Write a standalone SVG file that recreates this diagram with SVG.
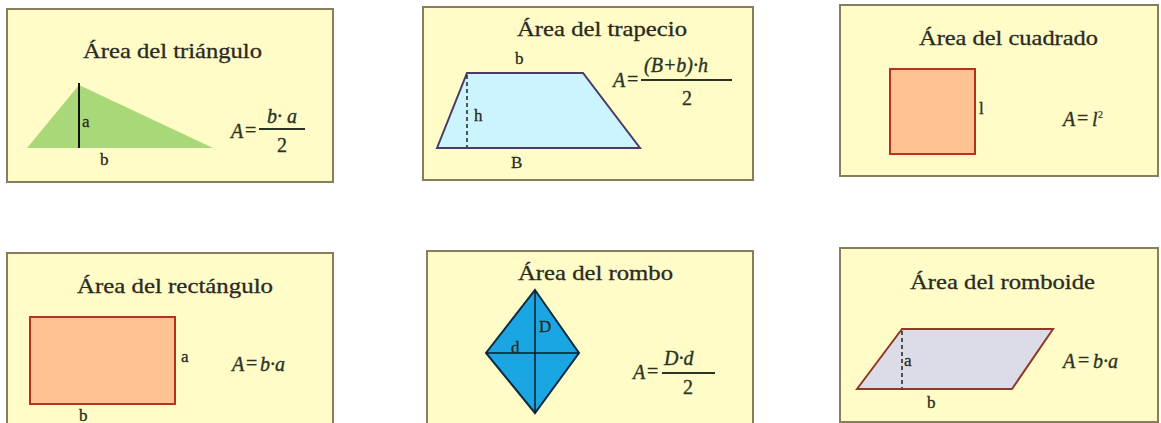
<svg xmlns="http://www.w3.org/2000/svg" width="1161" height="423" viewBox="0 0 1161 423">
<style>
.panel{fill:#fffcc8;stroke:#8a7c5c;stroke-width:2}
.title{font-family:"Liberation Serif",serif;font-size:21px;fill:#2a2a22;stroke:#2a2a22;stroke-width:0.3}
.lbl{font-family:"Liberation Serif",serif;font-size:17px;fill:#2a2a22;stroke:#2a2a22;stroke-width:0.3}
.f{font-family:"Liberation Serif",serif;font-style:italic;font-size:20px;fill:#2a3424;stroke:#2a3424;stroke-width:0.35}
.fn{font-family:"Liberation Serif",serif;font-size:20px;fill:#2a3424;stroke:#2a3424;stroke-width:0.35}
.sup{font-family:"Liberation Serif",serif;font-size:10px;fill:#2a3424;stroke:#2a3424;stroke-width:0.2}
.bar{stroke:#2a3424;stroke-width:1.8}
</style>
<rect width="1161" height="423" fill="#ffffff"/>
<g id="triangulo">
<rect class="panel" x="7" y="9" width="326" height="173"/>
<text class="title" x="83" y="58" textLength="179" lengthAdjust="spacingAndGlyphs">Área del triángulo</text>
<polygon points="27,148 79,85 213,148" fill="#a9d878"/>
<line x1="79" y1="83" x2="79" y2="148" stroke="#111" stroke-width="2"/>
<text class="lbl" x="82" y="127">a</text>
<text class="lbl" x="100" y="165">b</text>
<text class="f" x="231" y="138">A</text>
<text class="fn" x="245" y="137">=</text>
<text class="f" x="267" y="123">b· a</text>
<line class="bar" x1="259" y1="129" x2="305" y2="129"/>
<text class="fn" x="277" y="152">2</text>
</g>
<g id="trapecio">
<rect class="panel" x="423" y="7" width="330" height="173"/>
<text class="title" x="517" y="36" textLength="170" lengthAdjust="spacingAndGlyphs">Área del trapecio</text>
<polygon points="437,148 467,73 583,73 640,148" fill="#ccf4ff" stroke="#4a3a6a" stroke-width="2"/>
<line x1="467" y1="75" x2="467" y2="147" stroke="#222" stroke-width="1.5" stroke-dasharray="4,3"/>
<text class="lbl" x="474" y="121">h</text>
<text class="lbl" x="515" y="64">b</text>
<text class="lbl" x="511" y="168">B</text>
<text class="f" x="613" y="87">A</text>
<text class="fn" x="627" y="86">=</text>
<text class="f" x="644" y="72">(B+b)·h</text>
<line class="bar" x1="641" y1="80" x2="732" y2="80"/>
<text class="fn" x="682" y="105">2</text>
</g>
<g id="cuadrado">
<rect class="panel" x="840" y="5" width="318" height="171"/>
<text class="title" x="919" y="45" textLength="179" lengthAdjust="spacingAndGlyphs">Área del cuadrado</text>
<rect x="890" y="69" width="85" height="85" fill="#ffc393" stroke="#b8321e" stroke-width="2"/>
<text class="lbl" x="979" y="114">l</text>
<text class="f" x="1063" y="126">A</text>
<text class="fn" x="1077" y="125">=</text>
<text class="f" x="1092" y="126">l</text>
<text class="sup" x="1098" y="118">2</text>
</g>
<g id="rectangulo">
<rect class="panel" x="7" y="253" width="326" height="180"/>
<text class="title" x="77" y="293" textLength="196" lengthAdjust="spacingAndGlyphs">Área del rectángulo</text>
<rect x="30" y="317" width="145" height="87" fill="#ffc393" stroke="#b8321e" stroke-width="2"/>
<text class="lbl" x="181" y="362">a</text>
<text class="lbl" x="79" y="421">b</text>
<text class="f" x="232" y="371">A</text>
<text class="fn" x="246" y="370">=</text>
<text class="f" x="260" y="371">b·a</text>
</g>
<g id="rombo">
<rect class="panel" x="427" y="251" width="326" height="182"/>
<text class="title" x="518" y="280" textLength="155" lengthAdjust="spacingAndGlyphs">Área del rombo</text>
<polygon points="535,290 579,353 535,413 486,353" fill="#1aa6e2" stroke="#0f2a40" stroke-width="2"/>
<line x1="535" y1="290" x2="535" y2="413" stroke="#0f1a28" stroke-width="1.5"/>
<line x1="486" y1="353" x2="579" y2="353" stroke="#0f1a28" stroke-width="1.5"/>
<text class="lbl" x="539" y="332">D</text>
<text class="lbl" x="511" y="353">d</text>
<text class="f" x="633" y="379">A</text>
<text class="fn" x="647" y="378">=</text>
<text class="f" x="664" y="365">D·d</text>
<line class="bar" x1="662" y1="373" x2="715" y2="373"/>
<text class="fn" x="683" y="394">2</text>
</g>
<g id="romboide">
<rect class="panel" x="840" y="248" width="318" height="174"/>
<text class="title" x="910" y="289" textLength="185" lengthAdjust="spacingAndGlyphs">Área del romboide</text>
<polygon points="857,389 902,329 1053,329 1012,389" fill="#dcdce8" stroke="#8e3a26" stroke-width="2"/>
<line x1="902" y1="331" x2="902" y2="388" stroke="#222" stroke-width="1.5" stroke-dasharray="4,3"/>
<text class="lbl" x="904" y="366">a</text>
<text class="lbl" x="927" y="408">b</text>
<text class="f" x="1063" y="368">A</text>
<text class="fn" x="1078" y="367">=</text>
<text class="f" x="1093" y="368">b·a</text>
</g>
<g id="connectors"></g>
</svg>
